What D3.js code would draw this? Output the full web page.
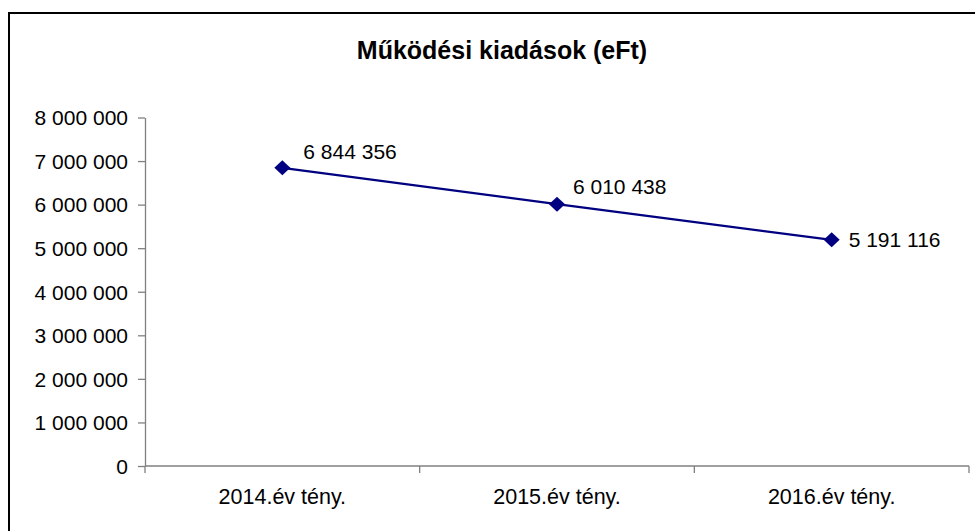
<!DOCTYPE html>
<html>
<head>
<meta charset="utf-8">
<script src="https://cdn.jsdelivr.net/npm/d3@7/dist/d3.min.js"></script>
<style>
  body { margin: 0; background: #fff; }
  svg { display: block; font-family: "Liberation Sans", Arial, sans-serif; }
</style>
</head>
<body>
<div id="chart"></div>
<script>
// chart data
var title = "Működési kiadások (eFt)";
var categories = ["2014.év tény.", "2015.év tény.", "2016.év tény."];
var values = [6844356, 6010438, 5191116];
var yTicks = [0, 1000000, 2000000, 3000000, 4000000, 5000000, 6000000, 7000000, 8000000];

var W = 975, H = 531;
var margin = {top: 117.5, right: 6, bottom: 65, left: 145};
var plotW = W - margin.left - margin.right,
    plotH = H - margin.top - margin.bottom;

var svg = d3.select("#chart").append("svg")
    .attr("width", W)
    .attr("height", H);

// outer chart frame (runs off the right / bottom edge)
svg.append("rect")
    .attr("x", 9).attr("y", 13)
    .attr("width", 990).attr("height", 540)
    .attr("fill", "none")
    .attr("stroke", "#000")
    .attr("stroke-width", 2);

svg.append("text")
    .attr("x", 502).attr("y", 59)
    .attr("text-anchor", "middle")
    .style("font-weight", "bold")
    .style("font-size", "25px")
    .text(title);

var g = svg.append("g")
    .attr("transform", "translate(" + margin.left + "," + margin.top + ")");

var x = d3.scaleBand().domain(categories).range([0, plotW]);
var y = d3.scaleLinear().domain([0, 8000000]).range([plotH, 0]);

var fmt = function (d) { return d3.format(",")(d).replace(/,/g, " "); };

// y axis
var yAxis = g.append("g")
    .call(d3.axisLeft(y).tickValues(yTicks).tickFormat(fmt).tickSize(7).tickPadding(10).tickSizeOuter(0));
yAxis.select(".domain").attr("stroke", "#808080").attr("stroke-width", 1.3);
yAxis.selectAll(".tick line").attr("stroke", "#808080").attr("stroke-width", 1.3);
yAxis.selectAll(".tick text")
    .attr("fill", "#000")
    .style("font-size", "21px")
    .style("font-family", "'Liberation Sans', Arial, sans-serif")
    .attr("dy", "0.35em");

// x axis: ticks on band edges
var xAxis = g.append("g").attr("transform", "translate(0," + plotH + ")");
xAxis.append("line")
    .attr("x1", 0).attr("x2", plotW)
    .attr("stroke", "#808080").attr("stroke-width", 1.3);
var edges = categories.map(function (c) { return x(c); }).concat([plotW]);
xAxis.selectAll(".edge").data(edges).enter().append("line")
    .attr("class", "edge")
    .attr("x1", function (d) { return d; }).attr("x2", function (d) { return d; })
    .attr("y1", 0).attr("y2", 7)
    .attr("stroke", "#808080").attr("stroke-width", 1.3);
xAxis.selectAll(".cat").data(categories).enter().append("text")
    .attr("class", "cat")
    .attr("x", function (d) { return x(d) + x.bandwidth() / 2; })
    .attr("y", 38)
    .attr("text-anchor", "middle")
    .style("font-size", "21.5px")
    .text(function (d) { return d; });

var pts = categories.map(function (c, i) {
    return {cat: c, v: values[i], px: x(c) + x.bandwidth() / 2, py: y(values[i])};
});

g.append("path")
    .datum(pts)
    .attr("fill", "none")
    .attr("stroke", "#000080")
    .attr("stroke-width", 2.3)
    .attr("d", d3.line().x(function (d) { return d.px; }).y(function (d) { return d.py; }));

g.selectAll(".mk").data(pts).enter().append("path")
    .attr("class", "mk")
    .attr("transform", function (d) { return "translate(" + d.px + "," + d.py + ")"; })
    .attr("d", "M0,-7.5L8,0L0,7.5L-8,0Z")
    .attr("fill", "#000080");

// data labels (Excel placed the first two slightly above)
var labelDx = [21, 16, 17];
var labelDy = [-9, -10, 7.5];
g.selectAll(".lbl").data(pts).enter().append("text")
    .attr("class", "lbl")
    .attr("x", function (d, i) { return d.px + labelDx[i]; })
    .attr("y", function (d, i) { return d.py + labelDy[i]; })
    .style("font-size", "21px")
    .text(function (d) { return fmt(d.v); });
</script>
</body>
</html>
